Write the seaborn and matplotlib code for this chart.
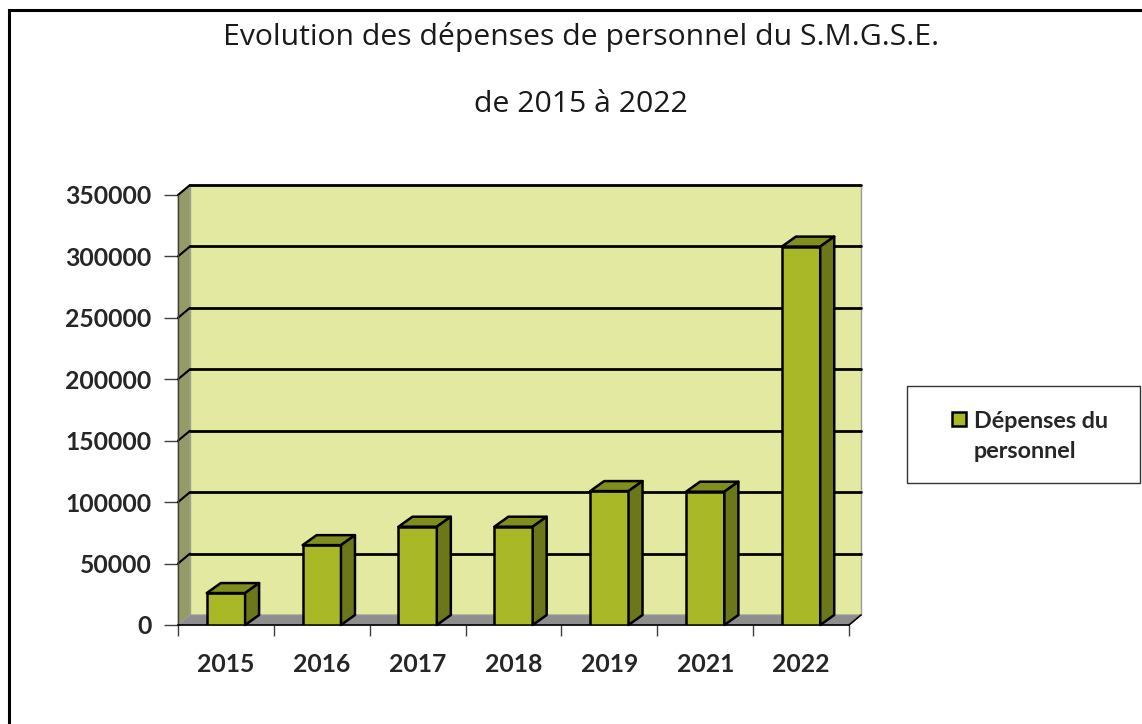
import matplotlib
matplotlib.use("Agg")
import matplotlib.pyplot as plt
import seaborn as sns
import pandas as pd
from matplotlib.patches import Polygon, Rectangle

# Données
annees = ['2015', '2016', '2017', '2018', '2019', '2021', '2022']
depenses = [26000, 65000, 80000, 80000, 109000, 108500, 308000]
graduations = [0, 50000, 100000, 150000, 200000, 250000, 300000, 350000]
titre_1 = "Evolution des dépenses de personnel du S.M.G.S.E."
titre_2 = "de 2015 à 2022"
legende = "Dépenses du\npersonnel"

df = pd.DataFrame({'annee': annees, 'depenses': depenses})

# Couleurs
vert_face = '#A9B827'
vert_haut = '#808E1D'
vert_cote = '#6B7719'
fond_mur = '#E3E9A0'
mur_gauche = '#959A66'
sol = '#8E8E8E'

W, H = 1142, 724
fig = plt.figure(figsize=(W / 100, H / 100), dpi=100)
sns.set_style('white')
plt.rcParams['font.family'] = ['Lato', 'DejaVu Sans']

# zone du graphique (plan avant) en pixels
x0, x1, yb, yt = 178, 849, 625, 195
ax = fig.add_axes([x0 / W, 1 - yb / H, (x1 - x0) / W, (yb - yt) / H])

n = len(annees)
ymax = graduations[-1]
px_x = (x1 - x0) / n          # pixels par catégorie
px_y = (yb - yt) / ymax       # pixels par unité
dx = 12 / px_x                # profondeur des murs
dy = 10 / px_y
bx = 14 / px_x                # profondeur des barres
by = 10 / px_y

xl, xr = -0.5, n - 0.5

# mur du fond
ax.add_patch(Rectangle((xl + dx, dy), xr - xl, ymax, facecolor=fond_mur,
                       edgecolor='#9A9A9A', linewidth=1, clip_on=False, zorder=0))
ax.plot([xl + dx, xr + dx], [ymax + dy, ymax + dy], color='black', lw=2,
        clip_on=False, zorder=1)
# mur gauche
ax.add_patch(Polygon([(xl, 0), (xl, ymax), (xl + dx, ymax + dy), (xl + dx, dy)],
                     facecolor=mur_gauche, edgecolor='#A8AA90', linewidth=0.6,
                     clip_on=False, zorder=0.5))
# sol
ax.add_patch(Polygon([(xl, 0), (xr, 0), (xr + dx, dy), (xl + dx, dy)],
                     facecolor=sol, edgecolor='#9A9A9A', linewidth=0.8,
                     clip_on=False, zorder=0.5))

# quadrillage
for g in graduations[1:-1]:
    ax.plot([xl + dx, xr + dx], [g + dy, g + dy], color='black', lw=2,
            clip_on=False, zorder=1)
    ax.plot([xl, xl + dx], [g, g + dy], color='black', lw=1.5,
            clip_on=False, zorder=1)
ax.plot([xl, xl + dx], [ymax, ymax + dy], color='black', lw=1.5, clip_on=False, zorder=1)
ax.plot([xr, xr + dx], [0, dy], color='black', lw=1.2, clip_on=False, zorder=1)

# barres (face avant)
sns.barplot(data=df, x='annee', y='depenses', color=vert_face, width=0.4,
            edgecolor='black', linewidth=1.8, saturation=1, ax=ax, zorder=3)

# faces du dessus et de côté
for p in list(ax.containers[0]):
    xa = p.get_x()
    xb = xa + p.get_width()
    h = p.get_height()
    ax.add_patch(Polygon([(xa, h), (xb, h), (xb + bx, h + by), (xa + bx, h + by)],
                         facecolor=vert_haut, edgecolor='black', linewidth=1.8,
                         joinstyle='round', clip_on=False, zorder=3))
    ax.add_patch(Polygon([(xb, 0), (xb, h), (xb + bx, h + by), (xb + bx, by)],
                         facecolor=vert_cote, edgecolor='black', linewidth=1.8,
                         joinstyle='round', clip_on=False, zorder=3))

ax.set_xlim(xl, xr)
ax.set_ylim(0, ymax)
ax.set_facecolor('none')
for s in ['top', 'right']:
    ax.spines[s].set_visible(False)
ax.spines['left'].set_color('#404040')
ax.spines['left'].set_linewidth(1)
ax.spines['bottom'].set_color('black')
ax.spines['bottom'].set_linewidth(1.2)

ax.set_yticks(graduations)
ax.set_yticklabels([str(g) for g in graduations], fontsize=17.8, fontweight='bold')
ax.tick_params(axis='y', length=10, width=1, color='#404040', pad=9, left=True)
ax.set_xticks(range(n))
ax.set_xticklabels(annees, fontsize=17.8, fontweight='bold')
ax.set_xticks([i - 0.5 for i in range(n + 1)], minor=True)
ax.tick_params(axis='x', which='major', length=0, pad=20)
ax.tick_params(axis='x', which='minor', length=8, width=1, color='#404040', bottom=True)
ax.set_xlabel('')
ax.set_ylabel('')

# titre
fig.text(581 / W, 1 - 37 / H, titre_1, ha='center', va='center', fontsize=21.7,
         family='Open Sans', color='#1a1a1a')
fig.text(581 / W, 1 - 104 / H, titre_2, ha='center', va='center', fontsize=21.7,
         family='Open Sans', color='#1a1a1a')

# légende
fig.patches.append(Rectangle((907 / W, 1 - 483 / H), 233 / W, 97 / H,
                             transform=fig.transFigure, facecolor='white',
                             edgecolor='#333333', linewidth=1))
fig.patches.append(Rectangle((952 / W, 1 - 426 / H), 14 / W, 14 / H,
                             transform=fig.transFigure, facecolor=vert_face,
                             edgecolor='black', linewidth=1.8))
fig.text(974 / W, 1 - 411 / H, legende, ha='left', va='top', fontsize=16.8,
         fontweight='bold', linespacing=1.5)

# cadre extérieur
fig.patches.append(Rectangle((9 / W, -0.05), 1.1, 1 - 10 / H + 0.05,
                             transform=fig.transFigure, facecolor='none',
                             edgecolor='black', linewidth=2.2))

fig.savefig('out.png', dpi=100)
